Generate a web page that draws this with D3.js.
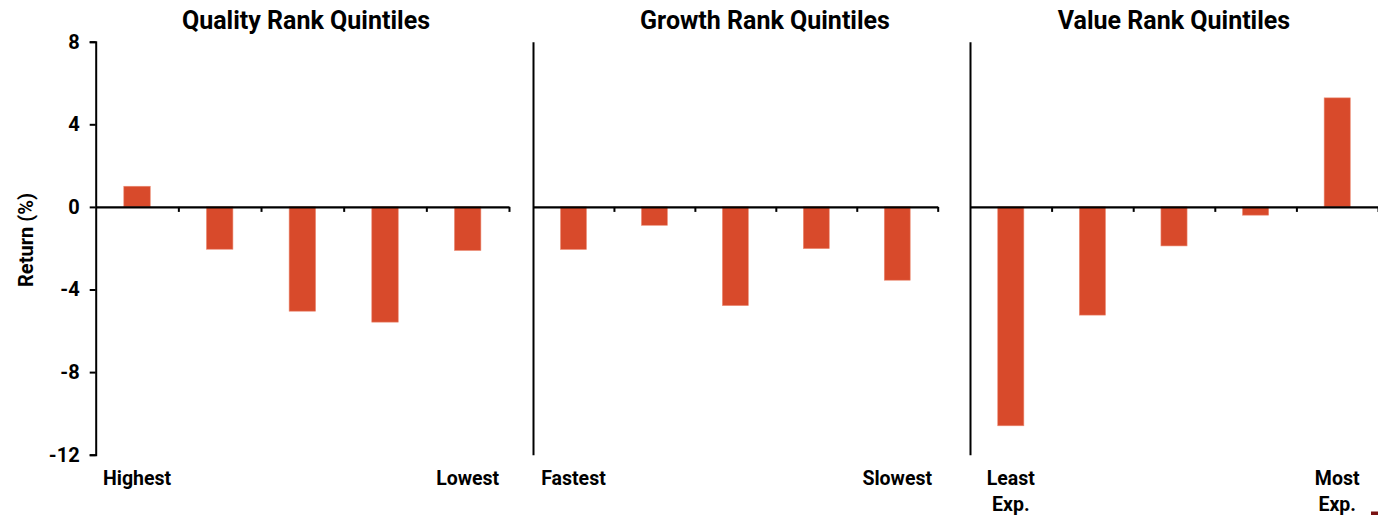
<!DOCTYPE html>
<html>
<head>
<meta charset="utf-8">
<script src="https://cdn.jsdelivr.net/npm/d3@7"></script>
<style>
  html, body { margin: 0; padding: 0; background: #fff; }
  svg { display: block; }
  text { font-family: Roboto, "Open Sans", sans-serif; font-weight: 700; fill: #000; }
</style>
</head>
<body>
<svg id="chart" width="1378" height="515"></svg>
<script>
// Quintile returns (%) for each ranking factor
const qualityLabels = ["Highest", "", "", "", "Lowest"];
const qualityValues = [1.0, -2.05, -5.05, -5.58, -2.11];

const growthLabels = ["Fastest", "", "", "", "Slowest"];
const growthValues = [-2.06, -0.89, -4.78, -2.02, -3.55];

const valueLabels = [["Least", "Exp."], [], [], [], ["Most", "Exp."]];
const valueValues = [-10.6, -5.24, -1.89, -0.4, 5.28];

const panelTitles = ["Quality Rank Quintiles", "Growth Rank Quintiles", "Value Rank Quintiles"];
const yTicks = [8, 4, 0, -4, -8, -12];
const yTitle = "Return (%)";

const barColor = "#d84a2b";

const svg = d3.select("#chart");

// Shared value scale
const y = d3.scaleLinear().domain([-12, 8]).range([454.7, 41.7]);

const panels = [
  { title: panelTitles[0], titleX: 306, values: qualityValues, labels: qualityLabels.map(d => d ? [d] : []), x0: 95.7, x1: 509, yAxis: true },
  { title: panelTitles[1], titleX: 765, values: growthValues, labels: growthLabels.map(d => d ? [d] : []), x0: 533, x1: 937.7, yAxis: false },
  { title: panelTitles[2], titleX: 1174, values: valueValues, labels: valueLabels, x0: 970, x1: 1378, yAxis: false }
];

panels.forEach(p => {
  const g = svg.append("g");
  const idx = d3.range(p.values.length);
  const x = d3.scaleBand().domain(idx).range([p.x0, p.x1]).paddingInner(0).paddingOuter(0);
  const xl = d3.scaleLinear().domain([0, p.values.length]).range([p.x0, p.x1]);
  const bw = x.bandwidth() * 0.32;

  // bars
  g.selectAll("rect.bar").data(p.values).join("rect")
    .attr("class", "bar")
    .attr("x", (d, i) => x(i) + (x.bandwidth() - bw) / 2)
    .attr("width", bw)
    .attr("y", d => y(Math.max(0, d)))
    .attr("height", d => Math.abs(y(d) - y(0)))
    .attr("fill", barColor)
    .attr("stroke", "#ec8a72")
    .attr("stroke-width", 0.6);

  // vertical axis
  const ya = d3.axisLeft(y).tickSizeOuter(0);
  if (p.yAxis) {
    ya.tickValues(yTicks).tickSize(6).tickPadding(10).tickFormat(d => String(d));
  } else {
    ya.tickValues([]);
  }
  const yg = g.append("g").attr("transform", `translate(${p.x0},0)`).call(ya);
  yg.select(".domain").attr("stroke", "#000").attr("stroke-width", 2);
  yg.selectAll(".tick line").attr("stroke", "#000").attr("stroke-width", 2);
  yg.selectAll(".tick text")
    .style("font-size", "20px")
    .style("font-family", "Roboto, sans-serif")
    .style("font-weight", "700")
    .attr("fill", "#000");

  // horizontal zero axis with category boundary ticks
  const xa = d3.axisBottom(xl).tickValues(d3.range(1, p.values.length + 1))
    .tickSize(5).tickSizeOuter(0).tickFormat("");
  const xg = g.append("g").attr("transform", `translate(0,${y(0)})`).call(xa);
  xg.select(".domain").attr("stroke", "#000").attr("stroke-width", 2.2);
  xg.selectAll(".tick line").attr("stroke", "#000").attr("stroke-width", 2);

  // category end labels
  p.labels.forEach((lines, i) => {
    lines.forEach((t, k) => {
      g.append("text")
        .attr("x", x(i) + x.bandwidth() / 2)
        .attr("y", 485 + k * 26)
        .attr("text-anchor", "middle")
        .style("font-size", "19.5px")
        .text(t);
    });
  });

  // panel title
  g.append("text")
    .attr("x", p.titleX)
    .attr("y", 29)
    .attr("text-anchor", "middle")
    .style("font-size", "25px")
    .text(p.title);
});

// y axis title
svg.append("text")
  .attr("transform", "translate(33,240) rotate(-90)")
  .attr("text-anchor", "middle")
  .style("font-size", "20px")
  .text(yTitle);

// small corner mark
svg.append("rect")
  .attr("x", 1371).attr("y", 511.5).attr("width", 7).attr("height", 3.5)
  .attr("fill", "#7a1212");
</script>
</body>
</html>
